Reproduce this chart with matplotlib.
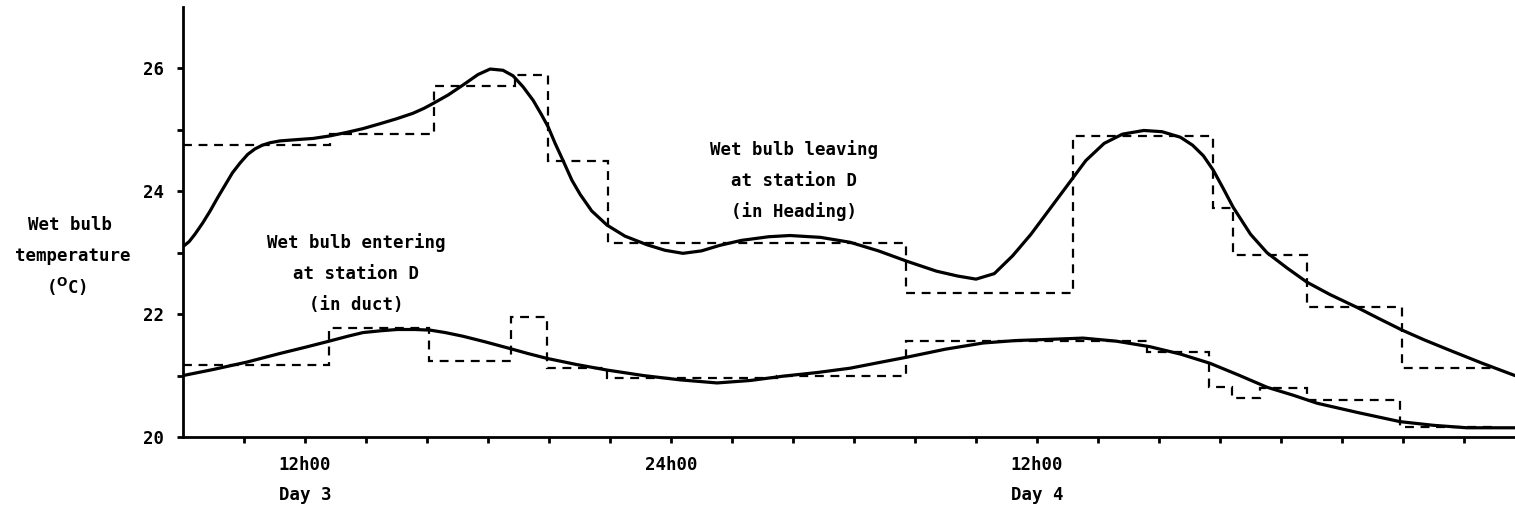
import matplotlib
matplotlib.use("Agg")
import matplotlib.pyplot as plt
from matplotlib.ticker import FixedLocator

# ---- data (hours since 00h00 Day 3, wet bulb temperature in degC) ----
leave_step_edges = [8.0, 12.82, 16.23, 18.89, 19.97, 21.93, 31.70, 37.18,
                    41.77, 42.43, 44.85, 47.97, 51.08]
leave_step_vals = [24.76, 24.93, 25.72, 25.89, 24.50, 23.16, 22.34, 24.90,
                   23.72, 22.96, 22.11, 21.12]

enter_step_edges = [8.0, 12.79, 16.07, 18.75, 19.93, 21.90, 27.48, 31.70,
                    39.61, 41.64, 42.39, 43.31, 44.85, 47.90, 51.0]
enter_step_vals = [21.17, 21.77, 21.24, 21.95, 21.12, 20.96, 20.99, 21.56,
                   21.38, 20.81, 20.63, 20.80, 20.61, 20.16]

leave_t = [8.0, 8.2, 8.39, 8.64, 8.89, 9.14, 9.38, 9.62, 9.87, 10.12, 10.36,
           10.6, 10.85, 11.18, 11.7, 12.26, 12.8, 13.38, 13.9, 14.46, 15.0,
           15.54, 15.9, 16.2, 16.7, 17.18, 17.67, 18.07, 18.49, 18.82, 19.15,
           19.48, 19.75, 19.97, 20.2, 20.46, 20.75, 21.02, 21.4, 21.9, 22.49,
           23.21, 23.8, 24.39, 25.0, 25.6, 26.3, 27.2, 27.9, 28.9, 29.87,
           30.8, 31.74, 32.7, 33.4, 34.0, 34.6, 35.2, 35.8, 36.4, 37.0, 37.6,
           38.2, 38.8, 39.5, 40.1, 40.7, 41.1, 41.45, 41.77, 42.1, 42.43,
           43.0, 43.54, 44.2, 44.85, 45.6, 46.49, 47.2, 47.97, 48.7, 49.54,
           50.6, 51.67]
leave_v = [23.10, 23.18, 23.30, 23.48, 23.68, 23.90, 24.10, 24.30, 24.46,
           24.60, 24.69, 24.75, 24.79, 24.82, 24.84, 24.86, 24.90, 24.96,
           25.02, 25.10, 25.18, 25.27, 25.35, 25.43, 25.57, 25.73, 25.90,
           25.99, 25.97, 25.88, 25.70, 25.48, 25.25, 25.05, 24.78, 24.50,
           24.18, 23.95, 23.68, 23.45, 23.27, 23.13, 23.04, 22.99, 23.03,
           23.12, 23.20, 23.26, 23.28, 23.25, 23.17, 23.03, 22.86, 22.70,
           22.62, 22.57, 22.66, 22.95, 23.30, 23.70, 24.10, 24.50, 24.78,
           24.93, 24.99, 24.97, 24.88, 24.75, 24.58, 24.35, 24.05, 23.74,
           23.30, 23.00, 22.75, 22.52, 22.32, 22.11, 21.93, 21.74, 21.58,
           21.41, 21.20, 21.00]

enter_t = [8.0, 9.0, 10.1, 11.18, 12.0, 12.79, 13.4, 13.9, 14.5, 15.02,
           15.6, 16.1, 16.6, 17.18, 17.9, 18.72, 19.3, 19.93, 20.9, 21.9,
           23.1, 24.3, 25.51, 26.6, 27.67, 28.8, 29.87, 30.8, 31.74, 33.0,
           34.23, 35.3, 36.43, 37.51, 38.6, 39.7, 40.7, 41.67, 42.6, 43.54,
           44.4, 45.18, 46.5, 47.9, 49.0, 50.1, 51.67]
enter_v = [21.00, 21.10, 21.22, 21.36, 21.46, 21.56, 21.64, 21.70, 21.73,
           21.75, 21.75, 21.74, 21.70, 21.64, 21.55, 21.44, 21.36, 21.28,
           21.18, 21.09, 21.00, 20.93, 20.88, 20.92, 20.99, 21.05, 21.12,
           21.21, 21.30, 21.43, 21.53, 21.57, 21.59, 21.61, 21.56, 21.47,
           21.35, 21.20, 21.01, 20.81, 20.68, 20.55, 20.40, 20.25, 20.19,
           20.15, 20.15]

x_ticks = [10, 12, 14, 16, 18, 20, 22, 24, 26, 28, 30, 32, 34, 36, 38, 40,
           42, 44, 46, 48, 50]
x_labels = {12: "12h00", 24: "24h00", 36: "12h00"}
day_labels = {12: "Day 3", 36: "Day 4"}
y_ticks = [20, 21, 22, 23, 24, 25, 26]
y_labels = {20: "20", 22: "22", 24: "24", 26: "26"}

FONT = "DejaVu Sans Mono"
FS = 12.5

fig = plt.figure(figsize=(15.15, 5.12), dpi=100)
ax = fig.add_axes([183 / 1515, 1 - 437 / 512, 1 - 183 / 1515, 430 / 512])

ax.plot(leave_t, leave_v, color="black", lw=2.3, solid_capstyle="round",
        solid_joinstyle="round")
ax.plot(enter_t, enter_v, color="black", lw=2.3, solid_capstyle="round",
        solid_joinstyle="round")
ax.stairs(leave_step_vals, leave_step_edges, baseline=None, color="black",
          lw=1.6, linestyle=(0, (4, 3)))
ax.stairs(enter_step_vals, enter_step_edges, baseline=None, color="black",
          lw=1.6, linestyle=(0, (4, 3)))

ax.set_xlim(8, 51.67)
ax.set_ylim(20, 27)

for s in ("top", "right"):
    ax.spines[s].set_visible(False)
for s in ("left", "bottom"):
    ax.spines[s].set_linewidth(2.0)

ax.xaxis.set_major_locator(FixedLocator(x_ticks))
ax.set_xticklabels([x_labels.get(t, "") for t in x_ticks],
                   fontfamily=FONT, fontweight="bold", fontsize=FS)
ax.yaxis.set_major_locator(FixedLocator(y_ticks))
ax.set_yticklabels([y_labels.get(t, "") for t in y_ticks],
                   fontfamily=FONT, fontweight="bold", fontsize=FS)
ax.tick_params(axis="both", direction="out", length=4, width=2.0, pad=10)

for t, lab in day_labels.items():
    ax.annotate(lab, xy=(t, 0), xycoords=("data", "axes fraction"),
                xytext=(0, -58), textcoords="offset pixels",
                ha="center", va="center", fontfamily=FONT,
                fontweight="bold", fontsize=FS)

# y axis title
fig.text(70 / 1515, 1 - 225 / 512, "Wet bulb", ha="center", va="center",
         fontfamily=FONT, fontweight="bold", fontsize=FS)
fig.text(73 / 1515, 1 - 256 / 512, "temperature", ha="center", va="center",
         fontfamily=FONT, fontweight="bold", fontsize=FS)
fig.text(67 / 1515, 1 - 287 / 512, r"($^{\mathbf{O}}$C)", ha="center",
         va="center", fontfamily=FONT, fontweight="bold", fontsize=FS)

# annotations
for i, line in enumerate(["Wet bulb entering", "at station D", "(in duct)"]):
    fig.text(356 / 1515, 1 - (243 + 31 * i) / 512, line, ha="center",
             va="center", fontfamily=FONT, fontweight="bold", fontsize=FS)
for i, line in enumerate(["Wet bulb leaving", "at station D", "(in Heading)"]):
    fig.text(794 / 1515, 1 - (150 + 31 * i) / 512, line, ha="center",
             va="center", fontfamily=FONT, fontweight="bold", fontsize=FS)

fig.savefig("out.png", dpi=100, facecolor="white")
